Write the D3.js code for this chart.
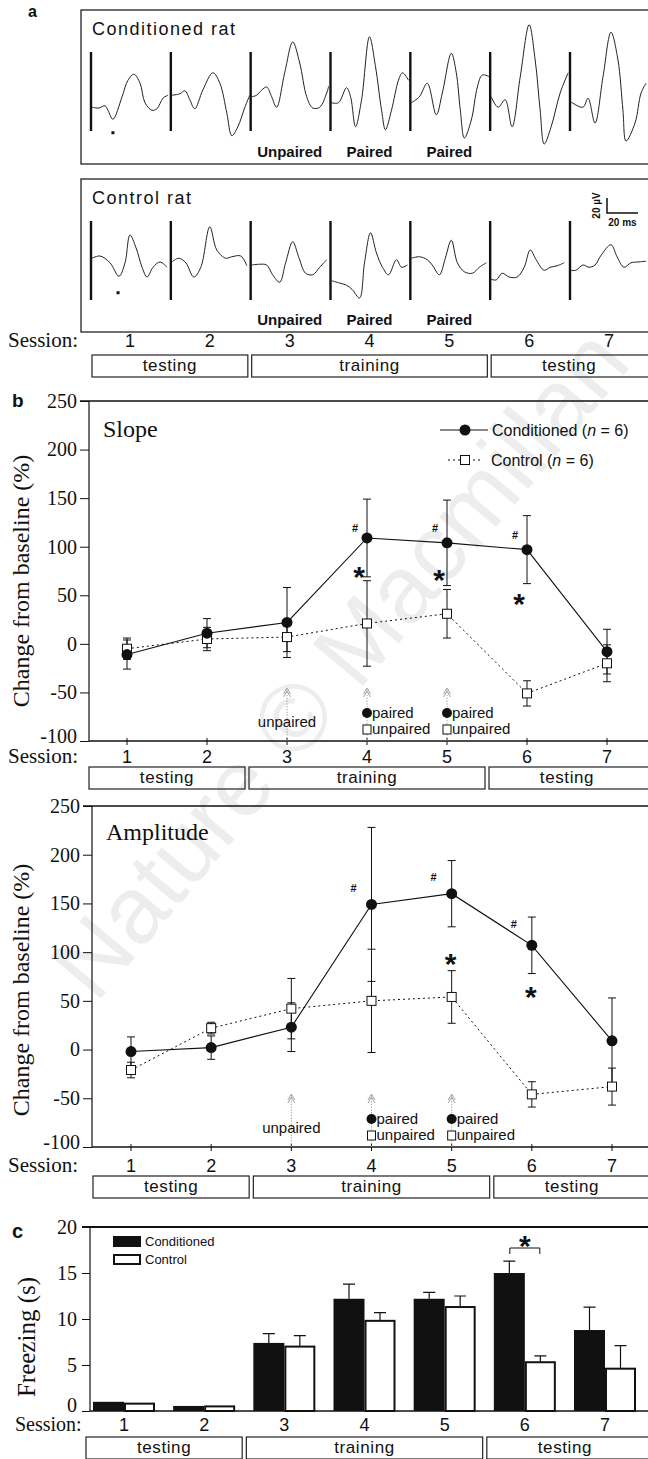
<!DOCTYPE html>
<html>
<head>
<meta charset="utf-8">
<script src="https://cdn.jsdelivr.net/npm/d3@7"></script>
<style>
  html, body { margin: 0; padding: 0; background: #fff; }
  svg { display: block; }
</style>
</head>
<body>
<svg id="fig" width="648" height="1459"></svg>
<script>
/* =========================================
   Conditioning figure: field potentials (a),
   slope / amplitude change (b), freezing (c)
   ========================================= */

// ---- Data ----
const sessions = [1, 2, 3, 4, 5, 6, 7];
const blocks = [
  { label: 'testing', from: 1, to: 2 },
  { label: 'training', from: 3, to: 5 },
  { label: 'testing', from: 6, to: 7 }
];
const traceTags = [[3, 'Unpaired'], [4, 'Paired'], [5, 'Paired']];

// example field potentials, [ms from stimulus, µV]
const condTraces = [
  [[0,-3],[4.5,-4],[8.4,-1],[10.3,-7],[13.5,-19],[19.4,11],[23.2,33],[27.1,41],[31,29],[34.2,3],[38.7,-7],[41.9,-5],[45.8,9],[49,13]],
  [[0,13],[5.2,15],[8.4,19],[11.6,7],[14.8,-5],[20,20],[26.5,43],[31,29],[35.5,-11],[38.7,-41],[42.6,-29],[47.1,-3],[50.3,13]],
  [[0,11],[3.2,13],[6.5,20],[9.7,24],[12.9,11],[16.1,-3],[21.3,43],[26.5,84],[31,56],[35.5,11],[39.4,-4],[43.9,-3],[48.4,16],[49.7,25]],
  [[0,3],[4.5,3],[9.7,23],[12.3,11],[15.5,-29],[19.4,7],[24.5,91],[28.4,51],[32.3,-7],[34.8,-33],[38.7,-7],[43.2,33],[45.8,43],[49.7,33]],
  [[0,3],[5.2,11],[10.3,29],[16.1,-13],[20,16],[25.8,69],[29,43],[31.6,-7],[34.2,-44],[38.7,-20],[42.6,24],[45.8,40],[51,37]],
  [[0,11],[4.5,-3],[9,7],[13.5,-29],[18.7,37],[24.5,107],[28.4,60],[31.6,-7],[34.2,-52],[38.7,-29],[44.5,16],[49.7,43]],
  [[0,4],[7.7,-3],[11,9],[15.5,-24],[20.6,37],[25.8,97],[30.3,60],[33.5,-7],[35.5,-48],[41.3,-24],[45.2,16],[48.4,29]]
];
const ctrlTraces = [
  [[0,9],[5.2,12],[11.6,3],[17.4,-15],[21.3,3],[24.5,40],[28.4,23],[32.3,-3],[35.5,-16],[39.4,-3],[43.9,4],[48.4,-3]],
  [[0,4],[4.5,9],[9,3],[14.2,-16],[18.7,-3],[24.5,51],[29,20],[34.8,9],[38.7,11],[44.5,12],[48.4,-1]],
  [[0,0],[5.2,1],[9.7,0],[13.5,-13],[18.1,-23],[21.9,3],[26.5,31],[30.3,11],[34.8,-11],[39.4,-13],[43.9,-3],[48.4,7]],
  [[0,-21],[5.2,-24],[9.7,-27],[13.5,-33],[18.1,-44],[21.3,3],[25.2,43],[29,16],[32.9,-3],[36.8,-13],[41.9,7],[45.2,-3],[49,0]],
  [[0,9],[5.2,11],[10.3,7],[13.5,0],[18.1,-13],[21.9,9],[25.8,33],[29.7,3],[34.2,-9],[39.4,-11],[43.9,-3],[48.4,3]],
  [[0,-19],[3.2,-20],[7.1,-11],[11.6,-16],[16.8,-16],[21.3,-3],[25.2,20],[29,7],[34.2,-7],[38.1,-3],[42.6,-1],[47.1,3]],
  [[0,-7],[3.2,-7],[7.7,0],[11.6,-3],[15.5,0],[19.4,13],[25.8,27],[29.7,11],[34.2,-3],[38.7,3],[43.2,4],[48.4,5]]
];
const latencyMark = { cond: [13.5, -37], ctrl: [16.8, -37] };

// b: change from baseline (%), mean and s.e.m.
const changeTicks = [-100, -50, 0, 50, 100, 150, 200, 250];
const slopeCond = [-11, 11, 22, 109, 104, 97, -8];
const slopeCondErr = [15, 15, 36, 40, 44, 35, 23];
const slopeCtrl = [-5, 5, 7, 21, 31, -51, -20];
const slopeCtrlErr = [11, 12, 15, 44, 25, 13, 19];
const slopeHash = [[4, 119], [5, 119], [6, 112]];
const slopeStar = [[4, 76], [5, 73], [6, 48]];

const ampCond = [-2, 2, 23, 149, 160, 107, 9];
const ampCondErr = [15, 12, 25, 79, 34, 29, 44];
const ampCtrl = [-21, 22, 42, 50, 54, -46, -38];
const ampCtrlErr = [8, 6, 31, 53, 27, 13, 19];
const ampHash = [[4, 166], [5, 177], [6, 129]];
const ampStar = [[5, 95], [6, 61]];

// training protocol shown under the curves
const protocol = [
  { session: 3, both: 'unpaired' },
  { session: 4, cond: 'paired', ctrl: 'unpaired' },
  { session: 5, cond: 'paired', ctrl: 'unpaired' }
];

// c: freezing (s)
const freezeTicks = [0, 5, 10, 15, 20];
const freezeCond = [1.0, 0.55, 7.4, 12.2, 12.2, 15.0, 8.8];
const freezeCondErr = [0, 0, 1.0, 1.6, 0.7, 1.3, 2.5];
const freezeCtrl = [0.8, 0.5, 7.0, 9.8, 11.3, 5.3, 4.6];
const freezeCtrlErr = [0, 0, 1.2, 0.9, 1.2, 0.7, 2.5];

// ---- Setup ----
const svg = d3.select('#fig');
const SERIF = '"Liberation Serif", "Times New Roman", serif';
const SANS = '"Liberation Sans", Arial, Helvetica, sans-serif';
const INK = '#111';

// faint watermark
svg.append('text')
  .attr('transform', 'translate(345,668) rotate(-50)')
  .attr('text-anchor', 'middle')
  .attr('dominant-baseline', 'middle')
  .attr('font-family', SANS)
  .attr('font-size', 95)
  .attr('fill', '#ededed')
  .text('Nature © Macmillan');

function panelLetter(txt, x, y, size) {
  svg.append('text').attr('x', x).attr('y', y)
    .attr('font-family', SANS).attr('font-weight', 'bold').attr('font-size', size)
    .attr('fill', INK).text(txt);
}

function sessionRow(x, numY, boxTop, labelX, labelSize) {
  svg.append('text').attr('x', labelX).attr('y', numY)
    .attr('font-family', SERIF).attr('font-size', labelSize || 21).attr('fill', INK)
    .text('Session:');
  svg.append('g').selectAll('text').data(sessions).join('text')
    .attr('x', d => x(d)).attr('y', numY)
    .attr('text-anchor', 'middle')
    .attr('font-family', SANS).attr('font-size', 18).attr('fill', INK)
    .text(d => d);
  const bg = svg.append('g').selectAll('g').data(blocks).join('g');
  bg.append('rect')
    .attr('x', d => x(d.from) - 38)
    .attr('y', boxTop)
    .attr('width', (d, i) => i === blocks.length - 1 ? 700 - x(d.from) : x(d.to) - x(d.from) + 76)
    .attr('height', 22)
    .attr('fill', 'none').attr('stroke', '#222').attr('stroke-width', 1.2);
  bg.append('text')
    .attr('x', d => (x(d.from) + x(d.to)) / 2)
    .attr('y', boxTop + 16)
    .attr('text-anchor', 'middle')
    .attr('font-family', SANS).attr('font-size', 17).attr('letter-spacing', 0.6)
    .attr('fill', INK)
    .text(d => d.label);
}

// ---- a: example traces ----
const ax = d3.scaleLinear().domain([1, 7]).range([130, 609]);
const tScale = d3.scaleLinear().domain([0, 20]).range([0, 31]);     // 20 ms = 31 px

function traceBox(o) {
  const v = d3.scaleLinear().domain([0, 20]).range([o.y0, o.y0 - 15]); // 20 µV = 15 px
  svg.append('rect')
    .attr('x', 81).attr('y', o.top).attr('width', 640).attr('height', o.bottom - o.top)
    .attr('fill', 'none').attr('stroke', '#222').attr('stroke-width', 1.3);
  svg.append('text').attr('x', 92).attr('y', o.top + 25)
    .attr('font-family', SANS).attr('font-size', 18).attr('letter-spacing', 1.5)
    .attr('fill', INK).text(o.title);

  const line = d3.line()
    .x(d => d[0])
    .y(d => d[1])
    .curve(d3.curveCatmullRom.alpha(0.5));

  o.traces.forEach((tr, i) => {
    const x0 = ax(sessions[i]) - 38;
    svg.append('line')
      .attr('x1', x0 - 1).attr('x2', x0 - 1)
      .attr('y1', o.barTop).attr('y2', o.barTop + 79)
      .attr('stroke', INK).attr('stroke-width', 2.4);
    svg.append('path')
      .datum(tr.map(p => [x0 + tScale(p[0]), v(p[1])]))
      .attr('d', line)
      .attr('fill', 'none').attr('stroke', '#222').attr('stroke-width', 1);
  });

  const m = o.mark;
  svg.append('rect')
    .attr('x', ax(1) - 38 + tScale(m[0]) - 1.5).attr('y', v(m[1]) - 1.5)
    .attr('width', 3).attr('height', 3).attr('fill', INK);

  svg.append('g').selectAll('text').data(traceTags).join('text')
    .attr('x', d => ax(d[0])).attr('y', o.tagY)
    .attr('text-anchor', 'middle')
    .attr('font-family', SANS).attr('font-weight', 'bold').attr('font-size', 15)
    .attr('fill', INK).text(d => d[1]);
  return v;
}

panelLetter('a', 28, 17, 16);
traceBox({ top: 10, bottom: 164, y0: 105, barTop: 52, tagY: 157, title: 'Conditioned rat',
  traces: condTraces, mark: latencyMark.cond });
const vCtrl = traceBox({ top: 179, bottom: 332, y0: 265, barTop: 221, tagY: 325, title: 'Control rat',
  traces: ctrlTraces, mark: latencyMark.ctrl });

// scale bar (20 µV, 20 ms)
{
  const cx = 607, cy = 213;
  const h = vCtrl(0) - vCtrl(20), w = tScale(20);
  svg.append('path')
    .attr('d', `M${cx},${cy - h}V${cy}H${cx + w}`)
    .attr('fill', 'none').attr('stroke', INK).attr('stroke-width', 1.5);
  svg.append('text')
    .attr('transform', `translate(${cx - 7},${cy - h / 2}) rotate(-90)`)
    .attr('text-anchor', 'middle')
    .attr('font-family', SANS).attr('font-weight', 'bold').attr('font-size', 10)
    .attr('fill', INK).text('20 µV');
  svg.append('text')
    .attr('x', cx + w / 2).attr('y', cy + 13)
    .attr('text-anchor', 'middle')
    .attr('font-family', SANS).attr('font-weight', 'bold').attr('font-size', 10)
    .attr('fill', INK).text('20 ms');
}
sessionRow(ax, 347, 355, 8);

// ---- b: slope and amplitude ----
function linePanel(p) {
  const x = d3.scaleLinear().domain([1, 7]).range(p.xRange);
  const y = d3.scaleLinear().domain([-100, 250]).range([p.bottom, p.top]);
  const g = svg.append('g');

  const ya = g.append('g').attr('transform', `translate(${p.axisX},0)`)
    .call(d3.axisLeft(y).tickValues(changeTicks).tickSize(9).tickPadding(3).tickFormat(d => String(d)));
  ya.select('.domain').remove();
  ya.selectAll('.tick line').attr('stroke', INK);
  ya.selectAll('.tick text').attr('font-family', SERIF).attr('font-size', 20).attr('fill', INK);
  // lowest label sits a little above its tick, clear of the session row
  ya.selectAll('.tick text').filter(d => d === -100).attr('y', -5);

  g.append('line').attr('x1', p.axisX).attr('x2', p.axisX).attr('y1', y(250)).attr('y2', y(-100))
    .attr('stroke', INK).attr('stroke-width', 1.2);
  g.append('line').attr('x1', p.axisX - 9).attr('x2', 660).attr('y1', y(250)).attr('y2', y(250))
    .attr('stroke', INK).attr('stroke-width', 1.6);
  g.append('line').attr('x1', p.axisX).attr('x2', 660).attr('y1', y(-100)).attr('y2', y(-100))
    .attr('stroke', INK).attr('stroke-width', 1.4);
  g.append('g').selectAll('line').data(sessions).join('line')
    .attr('x1', d => x(d)).attr('x2', d => x(d))
    .attr('y1', y(-100) - 3).attr('y2', y(-100) + 4)
    .attr('stroke', INK);

  g.append('text').attr('x', p.axisX + 14).attr('y', p.titleY)
    .attr('font-family', SERIF).attr('font-size', 24).attr('fill', INK).text(p.title);

  g.append('text')
    .attr('transform', `translate(29,${p.yTitleY}) rotate(-90)`)
    .attr('text-anchor', 'middle')
    .attr('font-family', SERIF).attr('font-size', 24).attr('fill', INK)
    .text('Change from baseline (%)');

  // protocol arrows and tags
  const base = y(-100);
  const pg = g.append('g').selectAll('g').data(protocol).join('g')
    .attr('transform', d => `translate(${x(d.session)},${base})`);
  pg.append('line').attr('y1', 0).attr('y2', -53)
    .attr('stroke', '#999').attr('stroke-dasharray', '1.2 1.6');
  pg.append('path').attr('d', 'M-3.5,-47L0,-53L3.5,-47M-3.5,-44L0,-50L3.5,-44')
    .attr('fill', 'none').attr('stroke', '#999').attr('stroke-width', 0.9);
  pg.filter(d => d.both).append('text')
    .attr('y', -14).attr('text-anchor', 'middle')
    .attr('font-family', SANS).attr('font-size', 15).attr('fill', INK)
    .text(d => d.both);
  const pc = pg.filter(d => d.cond);
  pc.append('circle').attr('cy', -28).attr('r', 5).attr('fill', INK);
  pc.append('text').attr('x', 5).attr('y', -23)
    .attr('font-family', SANS).attr('font-size', 15).attr('fill', INK).text(d => d.cond);
  pc.append('rect').attr('x', -4).attr('y', -16).attr('width', 8).attr('height', 9)
    .attr('fill', '#fff').attr('stroke', INK);
  pc.append('text').attr('x', 5).attr('y', -7)
    .attr('font-family', SANS).attr('font-size', 15).attr('fill', INK).text(d => d.ctrl);

  const line = d3.line().x((d, i) => x(sessions[i])).y(d => y(d));

  function errBars(vals, errs) {
    g.append('g').selectAll('path').data(vals).join('path')
      .attr('d', (d, i) => {
        const cx = x(sessions[i]);
        const t = y(d + errs[i]), b = y(d - errs[i]);
        return `M${cx},${t}V${b}M${cx - 4},${t}H${cx + 4}M${cx - 4},${b}H${cx + 4}`;
      })
      .attr('fill', 'none').attr('stroke', INK).attr('stroke-width', 1);
  }

  g.append('path').datum(p.ctrl).attr('d', line)
    .attr('fill', 'none').attr('stroke', INK).attr('stroke-width', 1).attr('stroke-dasharray', '2 3');
  errBars(p.ctrl, p.ctrlErr);
  g.append('path').datum(p.cond).attr('d', line)
    .attr('fill', 'none').attr('stroke', INK).attr('stroke-width', 1.1);
  errBars(p.cond, p.condErr);

  g.append('g').selectAll('rect').data(p.ctrl).join('rect')
    .attr('x', (d, i) => x(sessions[i]) - 4.5).attr('y', d => y(d) - 4.5)
    .attr('width', 9).attr('height', 9)
    .attr('fill', '#fff').attr('stroke', INK).attr('stroke-width', 1);
  g.append('g').selectAll('circle').data(p.cond).join('circle')
    .attr('cx', (d, i) => x(sessions[i])).attr('cy', d => y(d)).attr('r', 5.5)
    .attr('fill', INK);

  // significance marks
  g.append('g').selectAll('text').data(p.hash).join('text')
    .attr('x', d => x(d[0]) + p.hashDx).attr('y', d => y(d[1]) + 4)
    .attr('text-anchor', 'middle')
    .attr('font-family', SANS).attr('font-weight', 'bold').attr('font-size', 11)
    .attr('fill', INK).text('#');
  g.append('g').selectAll('text').data(p.star).join('text')
    .attr('x', d => x(d[0]) + p.starDx).attr('y', d => y(d[1]) + 17)
    .attr('text-anchor', 'middle')
    .attr('font-family', SANS).attr('font-weight', 'bold').attr('font-size', 30)
    .attr('fill', INK).text('*');

  if (p.legend) {
    const lg = g.append('g');
    lg.append('line').attr('x1', 440).attr('x2', 488).attr('y1', 430).attr('y2', 430)
      .attr('stroke', INK);
    lg.append('circle').attr('cx', 465).attr('cy', 430).attr('r', 5.5).attr('fill', INK);
    lg.append('line').attr('x1', 448).attr('x2', 481).attr('y1', 460).attr('y2', 460)
      .attr('stroke', INK).attr('stroke-dasharray', '2 3');
    lg.append('rect').attr('x', 460.5).attr('y', 455.5).attr('width', 9).attr('height', 9)
      .attr('fill', '#fff').attr('stroke', INK);
    const t1 = lg.append('text').attr('x', 492).attr('y', 436)
      .attr('font-family', SANS).attr('font-size', 16).attr('fill', INK);
    t1.append('tspan').text('Conditioned (');
    t1.append('tspan').attr('font-style', 'italic').text('n');
    t1.append('tspan').text(' = 6)');
    const t2 = lg.append('text').attr('x', 491).attr('y', 466)
      .attr('font-family', SANS).attr('font-size', 16).attr('fill', INK);
    t2.append('tspan').text('Control (');
    t2.append('tspan').attr('font-style', 'italic').text('n');
    t2.append('tspan').text(' = 6)');
  }

  sessionRow(x, p.numY, p.boxTop, 8);
}

panelLetter('b', 12, 407, 19);
linePanel({
  title: 'Slope', top: 401, bottom: 741, axisX: 89, xRange: [127, 607],
  titleY: 437, yTitleY: 581, numY: 763, boxTop: 767,
  cond: slopeCond, condErr: slopeCondErr, ctrl: slopeCtrl, ctrlErr: slopeCtrlErr,
  hash: slopeHash, hashDx: -12, star: slopeStar, starDx: -8, legend: true
});
linePanel({
  title: 'Amplitude', top: 806, bottom: 1147, axisX: 92, xRange: [131, 612],
  titleY: 840, yTitleY: 990, numY: 1172, boxTop: 1176,
  cond: ampCond, condErr: ampCondErr, ctrl: ampCtrl, ctrlErr: ampCtrlErr,
  hash: ampHash, hashDx: -18, star: ampStar, starDx: -1, legend: false
});

// ---- c: freezing ----
{
  const x = d3.scalePoint().domain(sessions).range([124, 605]);
  const y = d3.scaleLinear().domain([0, 20]).range([1411, 1227]);
  const bw = 31;
  const axisX = 90;
  const g = svg.append('g');

  panelLetter('c', 12, 1238, 20);

  const ya = g.append('g').attr('transform', `translate(${axisX},0)`)
    .call(d3.axisLeft(y).tickValues(freezeTicks).tickSize(8).tickPadding(5).tickFormat(d => String(d)));
  ya.select('.domain').remove();
  ya.selectAll('.tick line').attr('stroke', INK);
  ya.selectAll('.tick text').attr('font-family', SERIF).attr('font-size', 20).attr('fill', INK);
  ya.selectAll('.tick text').filter(d => d === 0).attr('y', -6);
  g.append('line').attr('x1', axisX).attr('x2', axisX).attr('y1', y(20)).attr('y2', y(0))
    .attr('stroke', INK).attr('stroke-width', 1.2);
  g.append('line').attr('x1', axisX - 8).attr('x2', 660).attr('y1', y(20)).attr('y2', y(20))
    .attr('stroke', INK).attr('stroke-width', 2);
  g.append('line').attr('x1', axisX).attr('x2', 660).attr('y1', y(0)).attr('y2', y(0))
    .attr('stroke', INK).attr('stroke-width', 1.4);

  g.append('text')
    .attr('transform', `translate(35,1337) rotate(-90)`)
    .attr('text-anchor', 'middle')
    .attr('font-family', SERIF).attr('font-size', 25).attr('fill', INK)
    .text('Freezing (s)');

  function errUp(vals, errs, off) {
    g.append('g').selectAll('path').data(vals).join('path')
      .attr('d', (d, i) => {
        if (!(errs[i] > 0)) return null;
        const cx = x(sessions[i]) + off, t = y(d + errs[i]);
        return `M${cx},${y(d)}V${t}M${cx - 6},${t}H${cx + 6}`;
      })
      .attr('fill', 'none').attr('stroke', INK).attr('stroke-width', 1.2);
  }
  errUp(freezeCond, freezeCondErr, -bw / 2);
  errUp(freezeCtrl, freezeCtrlErr, bw / 2);

  g.append('g').selectAll('rect').data(freezeCond).join('rect')
    .attr('x', (d, i) => x(sessions[i]) - bw).attr('y', d => y(d))
    .attr('width', bw).attr('height', d => y(0) - y(d))
    .attr('fill', INK);
  g.append('g').selectAll('rect').data(freezeCtrl).join('rect')
    .attr('x', (d, i) => x(sessions[i]) + 1).attr('y', d => y(d))
    .attr('width', bw - 2).attr('height', d => y(0) - y(d))
    .attr('fill', '#fff').attr('stroke', INK).attr('stroke-width', 2);

  // significance bracket at session 6
  const sx = x(6);
  g.append('path')
    .attr('d', `M${sx - 15},1254V1248H${sx + 15}V1254`)
    .attr('fill', 'none').attr('stroke', INK).attr('stroke-width', 1);
  g.append('text').attr('x', sx).attr('y', 1256)
    .attr('text-anchor', 'middle')
    .attr('font-family', SANS).attr('font-weight', 'bold').attr('font-size', 30)
    .attr('fill', INK).text('*');

  // legend
  g.append('rect').attr('x', 113).attr('y', 1236).attr('width', 28).attr('height', 11).attr('fill', INK);
  g.append('rect').attr('x', 114).attr('y', 1255).attr('width', 26).attr('height', 9)
    .attr('fill', '#fff').attr('stroke', INK).attr('stroke-width', 2);
  g.append('text').attr('x', 145).attr('y', 1246)
    .attr('font-family', SANS).attr('font-size', 13).attr('fill', INK).text('Conditioned');
  g.append('text').attr('x', 145).attr('y', 1264)
    .attr('font-family', SANS).attr('font-size', 13).attr('fill', INK).text('Control');

  sessionRow(x, 1431, 1437, 15, 20);
}
</script>
</body>
</html>
